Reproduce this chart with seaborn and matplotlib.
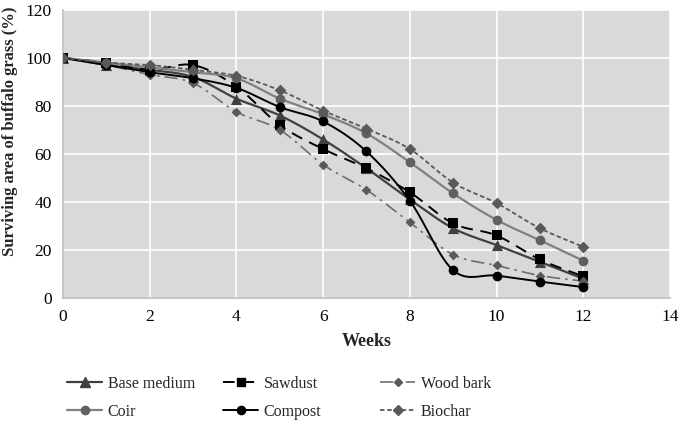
import numpy as np
import pandas as pd
import matplotlib
matplotlib.use("Agg")
import matplotlib.pyplot as plt
import seaborn as sns
from matplotlib.lines import Line2D

sns.set_theme(style="darkgrid")
plt.rcParams["font.family"] = ["Liberation Serif", "DejaVu Serif"]

# === Data ===
weeks = list(range(13))
base_medium = [100, 97, 95, 92, 83, 76, 66, 54, 41, 29, 22, 15, 8]
sawdust = [100, 98, 95, 97, 88, 72, 62, 54, 44, 31, 26, 16, 9]
wood_bark = [100, 97, 93, 89.5, 77.5, 70, 55.5, 45, 31.5, 18, 13.5, 9.3, 7]
coir = [100, 98, 96, 94, 91.5, 83, 76.5, 68.5, 56.5, 43.5, 32.5, 24, 15.5]
compost = [100, 97, 94, 91.5, 87.5, 79.5, 73.5, 61, 40.5, 11.5, 9.3, 6.8, 4.5]
biochar = [100, 98, 97, 95, 92.5, 86.5, 78, 70.5, 62, 48, 39.5, 29, 21.3]

series_names = ["Base medium", "Sawdust", "Wood bark", "Coir", "Compost", "Biochar"]
series_values = [base_medium, sawdust, wood_bark, coir, compost, biochar]

styles = {
    "Base medium": dict(color="#404040", ls="-", marker="^", ms=8, mc="#404040", lw=1.6),
    "Sawdust": dict(color="black", ls=(0, (6, 4)), marker="s", ms=7, mc="black", lw=1.4),
    "Wood bark": dict(color="#6e6e6e", ls=(0, (8, 3, 1.5, 3)), marker="D", ms=5, mc="#595959", lw=1.2),
    "Coir": dict(color="#808080", ls="-", marker="o", ms=7, mc="#606060", lw=1.6),
    "Compost": dict(color="black", ls="-", marker="o", ms=7, mc="black", lw=1.4),
    "Biochar": dict(color="#595959", ls=(0, (2.5, 1.5)), marker="D", ms=6, mc="#595959", lw=1.3),
}

df = pd.DataFrame({"week": weeks * len(series_names),
                   "area": sum(series_values, []),
                   "treatment": [n for n in series_names for _ in weeks]})


def smooth(x, y, n=20):
    # Excel-like bezier smoothing through the points
    x = np.asarray(x, float)
    y = np.asarray(y, float)
    xs, ys = [], []
    for i in range(len(x) - 1):
        p0 = np.array([x[max(i - 1, 0)], y[max(i - 1, 0)]])
        p1 = np.array([x[i], y[i]])
        p2 = np.array([x[i + 1], y[i + 1]])
        p3 = np.array([x[min(i + 2, len(x) - 1)], y[min(i + 2, len(x) - 1)]])
        c1 = p1 + (p2 - p0) / 6
        c2 = p2 - (p3 - p1) / 6
        t = np.linspace(0, 1, n)[:, None]
        pts = ((1 - t) ** 3) * p1 + 3 * ((1 - t) ** 2) * t * c1 + 3 * (1 - t) * t ** 2 * c2 + t ** 3 * p2
        xs.extend(pts[:, 0])
        ys.extend(pts[:, 1])
    return np.array(xs), np.array(ys)


fig = plt.figure(figsize=(6.85, 4.28), dpi=100)
ax = fig.add_axes([0.092, 0.304, 0.886, 0.673])
ax.set_facecolor("#d9d9d9")

handles = {}
for name in series_names:
    st = styles[name]
    sub = df[df["treatment"] == name]
    sx, sy = smooth(sub["week"], sub["area"])
    ax.plot(sx, sy, color=st["color"], ls=st["ls"], lw=st["lw"], zorder=2)
    sns.scatterplot(data=sub, x="week", y="area", ax=ax, marker=st["marker"], s=st["ms"] ** 2,
                    color=st["mc"], edgecolor=st["mc"], linewidth=0, zorder=3, legend=False)
    handles[name] = Line2D([], [], color=st["color"], ls=st["ls"], lw=st["lw"], marker=st["marker"],
                           ms=st["ms"] * 0.85, mfc=st["mc"], mec=st["mc"])

ax.set_xlim(0, 14)
ax.set_ylim(0, 120)
ax.set_xticks(range(0, 15, 2))
ax.set_yticks(range(0, 121, 20))
ax.grid(color="white", lw=1.2)
for s in ax.spines.values():
    s.set_visible(False)
ax.spines["left"].set_visible(True)
ax.spines["left"].set_color("#bfbfbf")
ax.spines["bottom"].set_visible(True)
ax.spines["bottom"].set_color("#bfbfbf")
ax.tick_params(labelsize=12.5, colors="black", length=0, pad=8)
ax.set_xlabel("Weeks", fontsize=13, fontweight="bold", labelpad=6)
ax.set_ylabel("Surviving area of buffalo grass (%)", fontsize=12, fontweight="bold", labelpad=4)
ax.yaxis.set_label_coords(-0.075, 0.58)

# legend: three columns of two entries each, laid out row-wise
col_x = [67 / 685, 223 / 685, 380 / 685]
columns = [["Base medium", "Coir"], ["Sawdust", "Compost"], ["Wood bark", "Biochar"]]
for cx, names in zip(col_x, columns):
    leg = fig.legend([handles[n] for n in names], names, loc="upper left",
                     bbox_to_anchor=(cx, 1 - 376 / 428), frameon=False, fontsize=11.5,
                     handlelength=2.2, handletextpad=0.35, labelspacing=0.75,
                     borderaxespad=0, borderpad=0)

fig.savefig("out.png", dpi=100)
